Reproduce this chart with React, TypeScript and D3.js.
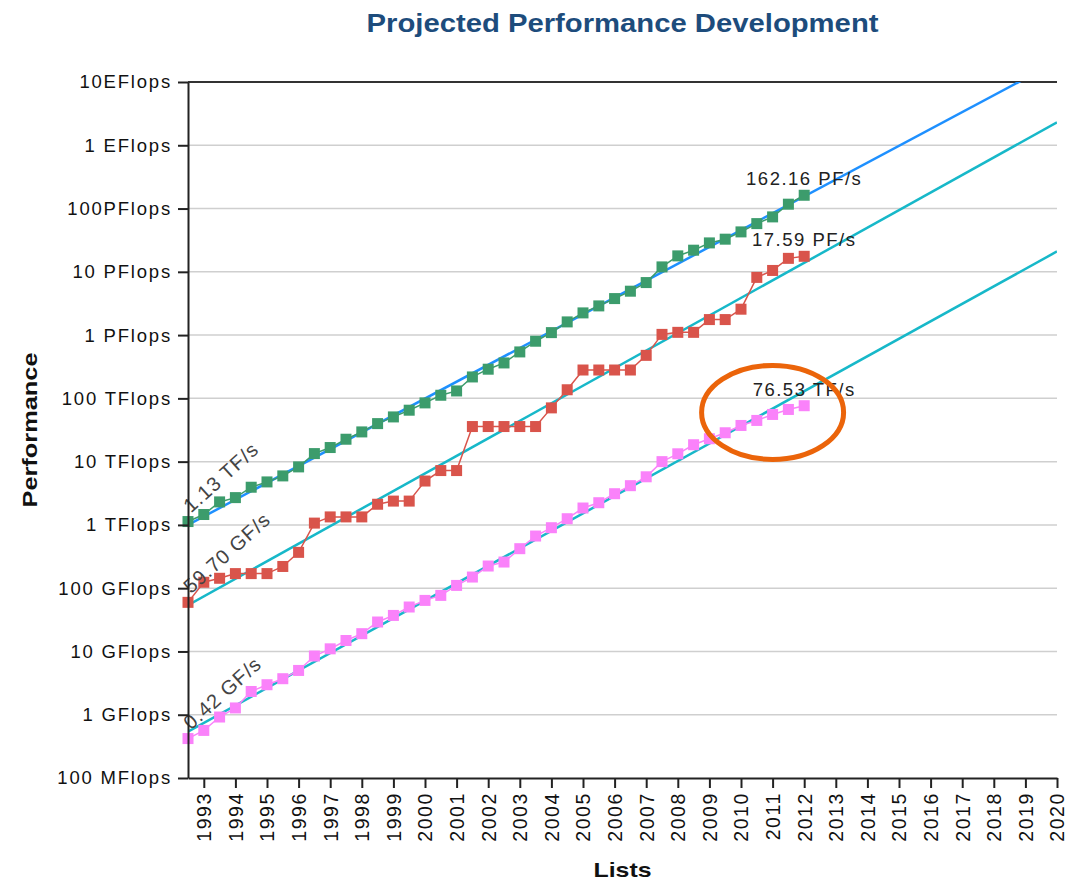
import React, { useEffect, useRef } from 'react';
import * as d3 from 'd3';

// TOP500 lists, June 1993 .. November 2012 (two lists per year)
// sum of all 500 systems, TFlop/s
const sumTF = [
  1.13, 1.46, 2.31, 2.7, 3.94, 4.78, 5.95, 8.26, 13.4, 16.7, 22.6, 29.5, 39.9, 50.9,
  65.0, 84.8, 112, 131, 218, 289, 363, 542, 800, 1094, 1616, 2243, 2893,
  3776, 4940, 6761, 11960, 17860, 21970, 28640, 32800, 42760, 57800, 73800, 117200, 162160,
];
// #1 system, GFlop/s
const firstGF = [
  59.7, 124, 143.4, 170, 170, 170, 220.4, 368.2, 1068, 1338, 1338, 1338, 2121, 2379,
  2379, 4938, 7226, 7226, 35860, 35860, 35860, 35860, 35860, 70720, 136800, 280600, 280600,
  280600, 280600, 478200, 1026000, 1105000, 1105000, 1759000, 1759000, 2566000, 8162000,
  10510000, 16324750, 17590000,
];
// #500 system, GFlop/s
const lastGF = [
  0.42, 0.565, 0.92, 1.28, 2.33, 2.98, 3.71, 5.01, 8.47, 11.0, 14.9, 19.1, 29.2, 37.1,
  50.4, 64.1, 76.9, 110.6, 150, 224, 259, 421, 667, 903, 1253, 1849, 2243,
  3112, 4170, 5760, 10000, 13300, 18500, 23000, 28600, 37300, 44800, 55700, 66800, 76530,
];

// projection lines: value (GFlop/s) at the first list and at the 2020 list
const trendSum = [1000, 2.1e10];
const trendFirst = [54, 2.3e9];
const trendLast = [0.54, 2.1e7];
const lastListIndex = 55;

const startLabels = ['1.13 TF/s', '59.70 GF/s', '0.42 GF/s'];
const endLabels = ['162.16 PF/s', '17.59 PF/s', '76.53 TF/s'];

const yTickValues = [0.1, 1, 10, 100, 1e3, 1e4, 1e5, 1e6, 1e7, 1e8, 1e9, 1e10];
const yTickLabels = [
  '100 MFlops', '1 GFlops', '10 GFlops', '100 GFlops', '1 TFlops', '10 TFlops',
  '100 TFlops', '1 PFlops', '10 PFlops', '100PFlops', '1 EFlops', '10EFlops',
];
const years = [
  1993, 1994, 1995, 1996, 1997, 1998, 1999, 2000, 2001, 2002, 2003, 2004, 2005, 2006,
  2007, 2008, 2009, 2010, 2011, 2012, 2013, 2014, 2015, 2016, 2017, 2018, 2019, 2020,
];

// circled area around the latest #500 entries (list index, GFlop/s)
const highlight = { list: 37, gf: 6e4 };

const W = 1080;
const H = 883;
const FONT = "'Liberation Sans', Arial, sans-serif";

const App: React.FC = () => {
  const svgRef = useRef<SVGSVGElement>(null);

  useEffect(() => {
    if (!svgRef.current) return;
    const svg = d3.select(svgRef.current);
    svg.selectAll('*').remove();

    const margin = { top: 82, right: 23, bottom: 105, left: 188 };
    const x = d3.scaleLinear().domain([0, lastListIndex]).range([margin.left, W - margin.right]);
    const y = d3.scaleLog().domain([0.1, 1e10]).range([H - margin.bottom, margin.top]);
    const [x0, x1] = x.range();
    const [yb, yt] = y.range();

    svg.append('clipPath').attr('id', 'plot-clip')
      .append('rect').attr('x', x0).attr('y', yt).attr('width', x1 - x0).attr('height', yb - yt);

    // grid
    svg.append('g').selectAll('line')
      .data(yTickValues.slice(1))
      .join('line')
      .attr('x1', x0).attr('x2', x1)
      .attr('y1', d => y(d)).attr('y2', d => y(d))
      .attr('stroke', (d, i) => (i === yTickValues.length - 2 ? '#333' : '#cfcfcf'))
      .attr('stroke-width', (d, i) => (i === yTickValues.length - 2 ? 2 : 1.5));

    // projection lines
    const trends = [
      { v: trendSum, color: '#1e90ff' },
      { v: trendFirst, color: '#17b8c9' },
      { v: trendLast, color: '#17b8c9' },
    ];
    svg.append('g').attr('clip-path', 'url(#plot-clip)')
      .selectAll('line')
      .data(trends)
      .join('line')
      .attr('x1', x(0)).attr('x2', x(lastListIndex))
      .attr('y1', d => y(d.v[0])).attr('y2', d => y(d.v[1]))
      .attr('stroke', d => d.color)
      .attr('stroke-width', 2.5);

    const series = [
      { values: sumTF.map(v => v * 1000), color: '#3c9c6c' },
      { values: firstGF, color: '#d9544b' },
      { values: lastGF, color: '#fa82fa' },
    ];
    const line = d3.line<number>().x((d, i) => x(i)).y(d => y(d));

    series.forEach((s, k) => {
      const g = svg.append('g');
      g.append('path').attr('d', line(s.values) || '')
        .attr('fill', 'none').attr('stroke', s.color).attr('stroke-width', 1.5);
      g.selectAll('rect').data(s.values).join('rect')
        .attr('x', (d, i) => x(i) - 5.5).attr('y', d => y(d) - 5.5)
        .attr('width', 11).attr('height', 11)
        .attr('fill', s.color);

      const v0 = s.values[0];
      g.append('text')
        .attr('transform', `translate(${x(0) + 3},${y(v0) - 8}) rotate(-42)`)
        .attr('font-family', FONT).attr('font-size', 20).attr('letter-spacing', 1)
        .attr('fill', '#444')
        .text(startLabels[k]);

      const n = s.values.length - 1;
      g.append('text')
        .attr('x', x(n)).attr('y', y(s.values[n]) - 10)
        .attr('text-anchor', 'middle')
        .attr('font-family', FONT).attr('font-size', 18.5).attr('letter-spacing', 1.5)
        .attr('fill', '#222')
        .text(endLabels[k]);
    });

    // y axis
    const yAxis = svg.append('g').attr('transform', `translate(${x0},0)`)
      .call(d3.axisLeft(y).tickValues(yTickValues)
        .tickFormat((d, i) => yTickLabels[i]).tickSize(10).tickSizeOuter(0));
    yAxis.select('.domain').attr('stroke', '#222').attr('stroke-width', 2);
    yAxis.selectAll('.tick line').attr('stroke', '#222').attr('stroke-width', 2);
    yAxis.selectAll('.tick text')
      .attr('font-family', FONT).attr('font-size', 18.5).attr('letter-spacing', 1.8)
      .attr('fill', '#111').attr('x', -16);

    // x axis
    const xTicks = years.map((yr, i) => 1 + i * 2);
    const xAxis = svg.append('g').attr('transform', `translate(0,${yb})`)
      .call(d3.axisBottom(x).tickValues(xTicks)
        .tickFormat((d, i) => String(years[i])).tickSize(10).tickSizeOuter(0));
    xAxis.select('.domain').attr('stroke', '#222').attr('stroke-width', 2);
    xAxis.selectAll('.tick line').attr('stroke', '#222').attr('stroke-width', 2);
    xAxis.selectAll('.tick text')
      .attr('font-family', FONT).attr('font-size', 19.5).attr('letter-spacing', 1.6)
      .attr('fill', '#111')
      .attr('transform', 'rotate(-90)')
      .attr('x', -14).attr('y', 0).attr('dy', '0.35em')
      .attr('text-anchor', 'end');

    // highlight ring
    svg.append('ellipse')
      .attr('cx', x(highlight.list)).attr('cy', y(highlight.gf))
      .attr('rx', 71).attr('ry', 47)
      .attr('fill', 'none').attr('stroke', '#eb640a').attr('stroke-width', 5);

    // titles
    const cx = (x0 + x1) / 2;
    svg.append('text')
      .attr('x', cx).attr('y', 32).attr('text-anchor', 'middle')
      .attr('font-family', FONT).attr('font-weight', 'bold').attr('font-size', 25)
      .attr('textLength', 512).attr('lengthAdjust', 'spacingAndGlyphs')
      .attr('fill', '#1d4c7c')
      .text('Projected Performance Development');
    svg.append('text')
      .attr('x', cx).attr('y', 877).attr('text-anchor', 'middle')
      .attr('font-family', FONT).attr('font-weight', 'bold').attr('font-size', 21)
      .attr('textLength', 58).attr('lengthAdjust', 'spacingAndGlyphs')
      .attr('fill', '#111')
      .text('Lists');
    svg.append('text')
      .attr('transform', `translate(37,${(yt + yb) / 2}) rotate(-90)`)
      .attr('text-anchor', 'middle')
      .attr('font-family', FONT).attr('font-weight', 'bold').attr('font-size', 20)
      .attr('textLength', 155).attr('lengthAdjust', 'spacingAndGlyphs')
      .attr('fill', '#111')
      .text('Performance');
  }, []);

  return (
    <svg ref={svgRef} width={W} height={H}
      style={{ position: 'absolute', left: 0, top: 0, background: '#fff' }} />
  );
};

export default App;
